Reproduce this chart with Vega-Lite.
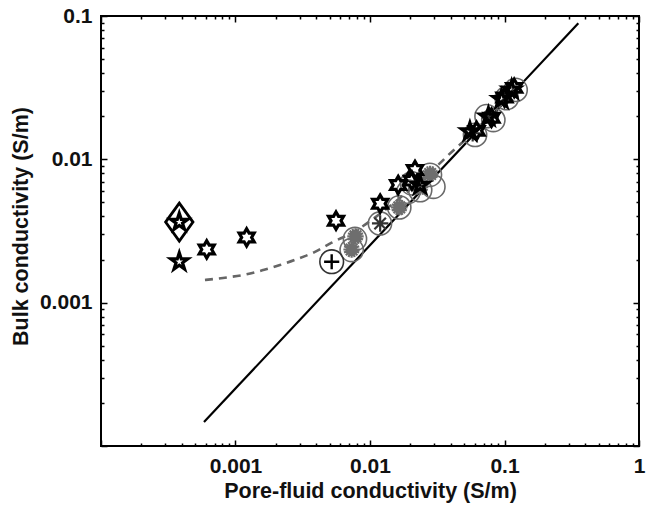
{
  "$schema": "https://vega.github.io/schema/vega-lite/v6.json",
  "width": 538,
  "height": 430,
  "autosize": {"type": "none"},
  "padding": {"left": 101, "top": 16, "right": 10, "bottom": 59},
  "background": "white",
  "config": {
    "view": {"stroke": "black", "strokeWidth": 2},
    "font": "Liberation Sans"
  },
  "datasets": {
    "solid": [{"x": 0.000583, "y": 0.000147}, {"x": 0.354, "y": 0.0889}],
    "dashed": [
      {"x": 0.000593, "y": 0.00144}, {"x": 0.000861, "y": 0.0015}, {"x": 0.00118, "y": 0.00157},
      {"x": 0.00161, "y": 0.00169}, {"x": 0.00214, "y": 0.00183}, {"x": 0.00285, "y": 0.00201},
      {"x": 0.0039, "y": 0.00226}, {"x": 0.00519, "y": 0.00262}, {"x": 0.0075, "y": 0.0031},
      {"x": 0.012, "y": 0.0042}, {"x": 0.02, "y": 0.0062}, {"x": 0.03, "y": 0.0086},
      {"x": 0.0382, "y": 0.0107}, {"x": 0.055, "y": 0.0146}, {"x": 0.08, "y": 0.0205},
      {"x": 0.12, "y": 0.0305}
    ],
    "circles": [
      {"x": 0.00773, "y": 0.00278}, {"x": 0.00731, "y": 0.00233}, {"x": 0.01186, "y": 0.00357},
      {"x": 0.0165, "y": 0.00462}, {"x": 0.0193, "y": 0.00594}, {"x": 0.0205, "y": 0.0068},
      {"x": 0.0236, "y": 0.0061}, {"x": 0.0279, "y": 0.0078}, {"x": 0.0296, "y": 0.00644},
      {"x": 0.0604, "y": 0.0148}, {"x": 0.0735, "y": 0.02}, {"x": 0.0826, "y": 0.0188},
      {"x": 0.1038, "y": 0.0267}, {"x": 0.121, "y": 0.0305}
    ],
    "plusCircle": [{"x": 0.00519, "y": 0.00193}],
    "asterisks": [
      {"x": 0.0078, "y": 0.0029}, {"x": 0.0073, "y": 0.00235}, {"x": 0.0165, "y": 0.00462},
      {"x": 0.0236, "y": 0.0064}, {"x": 0.028, "y": 0.0079}
    ],
    "asterisksDark": [
      {"x": 0.0119, "y": 0.00357}, {"x": 0.058, "y": 0.0152}, {"x": 0.078, "y": 0.0195},
      {"x": 0.105, "y": 0.028}
    ],
    "pentagrams": [
      {"x": 0.000382, "y": 0.00193}, {"x": 0.000382, "y": 0.00365}, {"x": 0.0236, "y": 0.0066},
      {"x": 0.0553, "y": 0.0156}, {"x": 0.0759, "y": 0.0198}, {"x": 0.113, "y": 0.0305},
      {"x": 0.095, "y": 0.0262}
    ],
    "hexagrams": [
      {"x": 0.000611, "y": 0.00235}, {"x": 0.00121, "y": 0.00285}, {"x": 0.00559, "y": 0.00373},
      {"x": 0.0119, "y": 0.0049}, {"x": 0.0162, "y": 0.00662}, {"x": 0.0216, "y": 0.00842},
      {"x": 0.0205, "y": 0.0071}, {"x": 0.062, "y": 0.0158}, {"x": 0.08, "y": 0.0195},
      {"x": 0.118, "y": 0.0315}, {"x": 0.1, "y": 0.027}
    ],
    "diamond": [{"x": 0.000382, "y": 0.00365}]
  },
  "resolve": {"axis": {"x": "independent", "y": "independent"}},
  "layer": [
    {
      "data": {"name": "solid"},
      "mark": {"type": "line", "color": "black", "strokeWidth": 2.2},
      "encoding": {
        "x": {
          "field": "x", "type": "quantitative",
          "scale": {"type": "log", "domain": [0.0001, 1], "nice": false},
          "axis": {
            "orient": "bottom",
            "title": "Pore-fluid conductivity (S/m)",
            "values": [0.0001,0.0002,0.0003,0.0004,0.0005,0.0006,0.0007,0.0008,0.0009,0.001,0.002,0.003,0.004,0.005,0.006,0.007,0.008,0.009,0.01,0.02,0.03,0.04,0.05,0.06,0.07,0.08,0.09,0.1,0.2,0.3,0.4,0.5,0.6,0.7,0.8,0.9,1],
            "labelExpr": "(datum.value==0.001||datum.value==0.01||datum.value==0.1||datum.value==1) ? format(datum.value,'~g') : ''",
            "labelOverlap": false,
            "labelFlush": false,
            "labelFont": "Liberation Sans",
            "labelFontWeight": "bold",
            "labelFontSize": 21,
            "labelColor": "#111",
            "labelBaseline": "top",
            "labelPadding": 15,
            "domain": false,
            "grid": false,
            "tickColor": "black",
            "tickWidth": 1.5,
            "tickSize": {"condition": {"test": "datum.value==0.0001||datum.value==0.001||datum.value==0.01||datum.value==0.1||datum.value==1", "value": -6}, "value": -3},
            "titleFont": "Liberation Sans",
            "titleFontWeight": "bold",
            "titleFontSize": 21.5,
            "titleColor": "#111",
            "titleX": 269,
            "titleY": 45,
            "titleBaseline": "middle",
            "titleAlign": "center"
          }
        },
        "y": {
          "field": "y", "type": "quantitative",
          "scale": {"type": "log", "domain": [0.0001, 0.1], "nice": false},
          "axis": {
            "orient": "left",
            "title": "Bulk conductivity (S/m)",
            "values": [0.0001,0.0002,0.0003,0.0004,0.0005,0.0006,0.0007,0.0008,0.0009,0.001,0.002,0.003,0.004,0.005,0.006,0.007,0.008,0.009,0.01,0.02,0.03,0.04,0.05,0.06,0.07,0.08,0.09,0.1],
            "labelExpr": "(datum.value==0.001||datum.value==0.01||datum.value==0.1) ? format(datum.value,'~g') : ''",
            "labelOverlap": false,
            "labelFlush": false,
            "labelFont": "Liberation Sans",
            "labelFontWeight": "bold",
            "labelFontSize": 21,
            "labelColor": "#111",
            "labelPadding": 15,
            "domain": false,
            "grid": false,
            "tickColor": "black",
            "tickWidth": 1.5,
            "tickSize": {"condition": {"test": "datum.value==0.0001||datum.value==0.001||datum.value==0.01||datum.value==0.1", "value": -6}, "value": -3},
            "titleFont": "Liberation Sans",
            "titleFontWeight": "bold",
            "titleFontSize": 21.5,
            "titleColor": "#111",
            "titleX": -80,
            "titleY": 210,
            "titleAngle": -90,
            "titleBaseline": "middle",
            "titleAlign": "center"
          }
        }
      }
    },
    {
      "data": {"name": "dashed"},
      "mark": {"type": "line", "color": "#666666", "strokeWidth": 2.6, "strokeDash": [8, 6], "interpolate": "monotone"},
      "encoding": {
        "x": {
          "field": "x", "type": "quantitative",
          "axis": {
            "orient": "top", "title": null, "labels": false, "domain": false, "grid": false,
            "values": [0.0001,0.0002,0.0003,0.0004,0.0005,0.0006,0.0007,0.0008,0.0009,0.001,0.002,0.003,0.004,0.005,0.006,0.007,0.008,0.009,0.01,0.02,0.03,0.04,0.05,0.06,0.07,0.08,0.09,0.1,0.2,0.3,0.4,0.5,0.6,0.7,0.8,0.9,1],
            "tickColor": "black", "tickWidth": 1.5,
            "tickSize": {"condition": {"test": "datum.value==0.0001||datum.value==0.001||datum.value==0.01||datum.value==0.1||datum.value==1", "value": -6}, "value": -3}
          }
        },
        "y": {
          "field": "y", "type": "quantitative",
          "axis": {
            "orient": "right", "title": null, "labels": false, "domain": false, "grid": false,
            "values": [0.0001,0.0002,0.0003,0.0004,0.0005,0.0006,0.0007,0.0008,0.0009,0.001,0.002,0.003,0.004,0.005,0.006,0.007,0.008,0.009,0.01,0.02,0.03,0.04,0.05,0.06,0.07,0.08,0.09,0.1],
            "tickColor": "black", "tickWidth": 1.5,
            "tickSize": {"condition": {"test": "datum.value==0.0001||datum.value==0.001||datum.value==0.01||datum.value==0.1", "value": -6}, "value": -3}
          }
        }
      }
    },
    {
      "data": {"name": "circles"},
      "mark": {"type": "point", "shape": "circle", "filled": false, "stroke": "#6a6a6a", "strokeWidth": 1.6, "size": 540, "opacity": 1},
      "encoding": {
        "x": {"field": "x", "type": "quantitative", "axis": null},
        "y": {"field": "y", "type": "quantitative", "axis": null}
      }
    },
    {
      "data": {"name": "plusCircle"},
      "mark": {"type": "point", "shape": "circle", "filled": false, "stroke": "#333333", "strokeWidth": 1.6, "size": 560, "opacity": 1},
      "encoding": {
        "x": {"field": "x", "type": "quantitative", "axis": null},
        "y": {"field": "y", "type": "quantitative", "axis": null}
      }
    },
    {
      "data": {"name": "plusCircle"},
      "mark": {"type": "point", "shape": "M-1,0L1,0M0,-1L0,1", "filled": false, "stroke": "black", "strokeWidth": 2.4, "size": 230, "opacity": 1},
      "encoding": {
        "x": {"field": "x", "type": "quantitative", "axis": null},
        "y": {"field": "y", "type": "quantitative", "axis": null}
      }
    },
    {
      "data": {"name": "asterisks"},
      "mark": {"type": "point", "shape": "M-1,0L1,0M0,-1L0,1M-0.7,-0.7L0.7,0.7M-0.7,0.7L0.7,-0.7M-0.38,-0.92L0.38,0.92M0.38,-0.92L-0.38,0.92M-0.92,-0.38L0.92,0.38M-0.92,0.38L0.92,-0.38", "filled": false, "stroke": "#6e6e6e", "strokeWidth": 2.2, "size": 270, "opacity": 1},
      "encoding": {
        "x": {"field": "x", "type": "quantitative", "axis": null},
        "y": {"field": "y", "type": "quantitative", "axis": null}
      }
    },
    {
      "data": {"name": "asterisksDark"},
      "mark": {"type": "point", "shape": "M-1,0L1,0M0,-1L0,1M-0.7,-0.7L0.7,0.7M-0.7,0.7L0.7,-0.7", "filled": false, "stroke": "#333333", "strokeWidth": 2.2, "size": 270, "opacity": 1},
      "encoding": {
        "x": {"field": "x", "type": "quantitative", "axis": null},
        "y": {"field": "y", "type": "quantitative", "axis": null}
      }
    },
    {
      "data": {"name": "pentagrams"},
      "mark": {"type": "point", "shape": "M0,-1L0.2245,-0.309L0.951,-0.309L0.363,0.118L0.588,0.809L0,0.382L-0.588,0.809L-0.363,0.118L-0.951,-0.309L-0.2245,-0.309Z", "filled": false, "stroke": "black", "strokeWidth": 3.2, "size": 320, "opacity": 1},
      "encoding": {
        "x": {"field": "x", "type": "quantitative", "axis": null},
        "y": {"field": "y", "type": "quantitative", "axis": null}
      }
    },
    {
      "data": {"name": "hexagrams"},
      "mark": {"type": "point", "shape": "M0,-1L0.289,-0.5L0.866,-0.5L0.577,0L0.866,0.5L0.289,0.5L0,1L-0.289,0.5L-0.866,0.5L-0.577,0L-0.866,-0.5L-0.289,-0.5Z", "filled": false, "stroke": "black", "strokeWidth": 3.2, "size": 300, "opacity": 1},
      "encoding": {
        "x": {"field": "x", "type": "quantitative", "axis": null},
        "y": {"field": "y", "type": "quantitative", "axis": null}
      }
    },
    {
      "data": {"name": "diamond"},
      "mark": {"type": "point", "shape": "M0,-1L0.72,0L0,1L-0.72,0Z", "filled": false, "stroke": "black", "strokeWidth": 2.8, "size": 1444, "opacity": 1},
      "encoding": {
        "x": {"field": "x", "type": "quantitative", "axis": null},
        "y": {"field": "y", "type": "quantitative", "axis": null}
      }
    }
  ]
}
